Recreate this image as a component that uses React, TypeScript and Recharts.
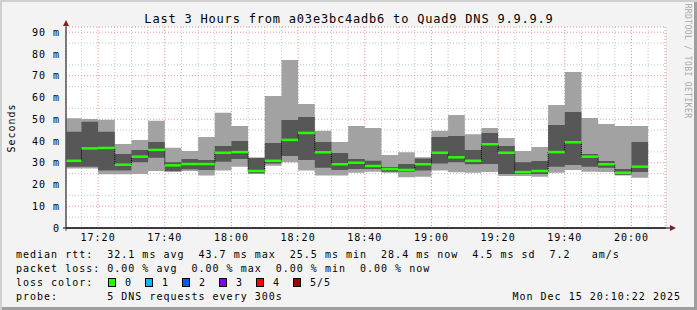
import React from "react";
import { ComposedChart, Area, Line, Scatter, XAxis, YAxis, CartesianGrid } from "recharts";

// 5-minute bins (start time of each bin)
const binTimes = [
  "17:10", "17:15", "17:20", "17:25", "17:30", "17:35", "17:40", "17:45", "17:50", "17:55",
  "18:00", "18:05", "18:10", "18:15", "18:20", "18:25", "18:30", "18:35", "18:40", "18:45", "18:50", "18:55",
  "19:00", "19:05", "19:10", "19:15", "19:20", "19:25", "19:30", "19:35", "19:40", "19:45", "19:50", "19:55",
  "20:00",
];

// smoke: slowest / fastest ping, inner pings and median (ms)
const pingMin = [27.4, 27.4, 24.7, 24.7, 24.8, 26.2, 25.7, 26.2, 24.1, 26.4, 28.2, 25.1, 28.6, 30.2, 26.4, 24.1, 24.1, 25.4, 25.9, 25.4, 23.3, 23.6, 26.4, 25.6, 25.4, 25.7, 23.9, 23.9, 23.6, 25.4, 26.7, 25.9, 25.7, 24.1, 23.1];
const pingLow = [28.2, 28.2, 26.4, 26.4, 30.2, 32.3, 26.2, 27.0, 26.7, 30.5, 31.7, 25.1, 29.7, 33.1, 31.3, 27.7, 26.7, 27.1, 27.1, 25.9, 25.9, 26.4, 29.7, 30.2, 29.3, 29.4, 24.8, 24.8, 24.8, 28.2, 29.0, 28.2, 27.7, 24.5, 25.7];
const median = [30.9, 36.6, 36.8, 29.1, 32.8, 35.9, 28.8, 29.4, 29.4, 34.6, 34.9, 26.2, 30.9, 40.5, 43.7, 34.8, 29.3, 30.0, 28.5, 27.1, 26.7, 29.3, 34.6, 32.5, 30.9, 38.5, 34.6, 25.7, 26.2, 34.9, 39.4, 32.8, 29.3, 25.4, 28.2];
const pingHigh = [44.3, 48.9, 44.3, 34.0, 35.9, 39.5, 30.2, 31.7, 31.3, 37.7, 40.0, 32.3, 39.1, 49.7, 51.0, 39.5, 34.5, 31.7, 30.9, 28.0, 29.4, 31.9, 41.8, 42.3, 35.9, 43.7, 37.7, 30.2, 30.8, 47.4, 53.3, 34.0, 30.8, 27.1, 39.5];
const pingMax = [50.4, 50.1, 49.8, 38.6, 40.5, 49.3, 36.9, 35.4, 41.8, 53.0, 46.9, 32.3, 60.7, 77.2, 57.0, 44.7, 39.5, 46.9, 46.0, 33.6, 34.8, 32.5, 44.7, 52.0, 43.1, 46.0, 41.4, 35.4, 37.2, 56.6, 71.7, 50.6, 47.8, 46.9, 46.9];

const xTickLabels = ["17:20", "17:40", "18:00", "18:20", "18:40", "19:00", "19:20", "19:40", "20:00"];
const yTicks = [0, 10, 20, 30, 40, 50, 60, 70, 80, 90];

const legendLines = [
  "median rtt:  32.1 ms avg  43.7 ms max  25.5 ms min  28.4 ms now  4.5 ms sd  7.2   am/s",
  "packet loss: 0.00 % avg  0.00 % max  0.00 % min  0.00 % now",
  "loss color:",
  "probe:       5 DNS requests every 300s",
];
const lossLabels = ["0", "1", "2", "3", "4", "5/5"];
const lossColors = ["#26ff00", "#00b8ff", "#0059ff", "#7e00ff", "#ff0000", "#a10000"];

const BIN = 5;
const toMin = (s: string) => {
  const [h, m, sec] = s.split(":").map(Number);
  return (h - 17) * 60 + m + (sec || 0) / 60;
};
const fmtTime = (t: number) => `${17 + Math.floor(t / 60)}:${String(Math.round(t % 60)).padStart(2, "0")}`;

const X0 = toMin("17:10:22");
const X1 = toMin("20:10:22");
const Y_MAX = 92.4;

const rows: any[] = binTimes.map((b, i) => ({
  t: toMin(b),
  smoke: [pingMin[i], pingMax[i]],
  core: [pingLow[i], pingHigh[i]],
  med: median[i],
}));
// close the last step
const last = rows[rows.length - 1];
rows.push({ t: last.t + BIN, smoke: last.smoke, core: last.core });

const xTicks = xTickLabels.map(toMin);
const xMinor: number[] = [];
for (let t = 15; t < X1; t += 5) if (!xTicks.includes(t)) xMinor.push(t);
const yMinor = [5, 15, 25, 35, 45, 55, 65, 75, 85];

const W = 697;
const H = 310;
const BIN_PX = (600 / (X1 - X0)) * BIN;
const FONT = "'DejaVu Sans Mono', monospace";

function MedianMark(p: any) {
  if (p == null || !Number.isFinite(p.cx) || !Number.isFinite(p.cy)) return <g />;
  return <line x1={p.cx} x2={p.cx + BIN_PX} y1={p.cy} y2={p.cy} stroke="#26ff00" strokeWidth={2.5} />;
}

export default function App() {
  const minorV = (props: any) => {
    const s = props?.xAxis?.scale;
    const o = props?.offset;
    return xMinor.map((v) => (typeof s === "function" ? s(v) : o.left + ((v - X0) / (X1 - X0)) * o.width));
  };
  const minorH = (props: any) => {
    const s = props?.yAxis?.scale;
    const o = props?.offset;
    return yMinor.map((v) => (typeof s === "function" ? s(v) : o.top + o.height - (v / Y_MAX) * o.height));
  };

  const tickStyle = { fontFamily: FONT, fontSize: 10, letterSpacing: 1, fill: "#000" };

  return (
    <div
      style={{
        position: "fixed",
        left: 0,
        top: 0,
        width: W,
        height: H,
        background: "#f3f3f3",
        boxShadow: "inset 2px 2px 0 #cfcfcf, inset -3px -3px 0 #9e9e9e",
      }}
    >
      <ComposedChart width={W} height={H} data={rows} margin={{ top: 27, right: 31, bottom: 62, left: 0 }}>
        <CartesianGrid
          fill="#ffffff"
          stroke="#c4c4c4"
          strokeDasharray="1 2"
          verticalCoordinatesGenerator={minorV}
          horizontalCoordinatesGenerator={minorH}
        />
        <CartesianGrid stroke="#f09090" strokeDasharray="1 2" />
        <XAxis
          dataKey="t"
          type="number"
          domain={[X0, X1]}
          allowDataOverflow
          ticks={xTicks}
          tickFormatter={fmtTime}
          tickLine={false}
          tickSize={5}
          tickMargin={1}
          height={20}
          axisLine={{ stroke: "#000" }}
          tick={tickStyle}
        />
        <YAxis
          type="number"
          domain={[0, Y_MAX]}
          ticks={yTicks}
          tickFormatter={(v: number) => (v === 0 ? "0" : `${v} m`)}
          tickLine={false}
          tickSize={4}
          tickMargin={2}
          width={66}
          axisLine={{ stroke: "#555" }}
          tick={tickStyle}
        />
        <Area type="stepAfter" dataKey="smoke" fill="#a2a2a2" fillOpacity={1} stroke="none" isAnimationActive={false} />
        <Area type="stepAfter" dataKey="core" fill="#575757" fillOpacity={1} stroke="none" isAnimationActive={false} />
        <Line
          type="stepAfter"
          dataKey="med"
          stroke="#000"
          strokeWidth={1}
          strokeDasharray="1 1"
          dot={false}
          activeDot={false}
          isAnimationActive={false}
        />
        <Scatter dataKey="med" shape={MedianMark} isAnimationActive={false} />
      </ComposedChart>

      <svg width={W} height={H} style={{ position: "absolute", left: 0, top: 0, pointerEvents: "none" }}>
        <text x={349} y={23} textAnchor="middle" fontFamily={FONT} fontSize={12} letterSpacing={0.8} fill="#000">
          Last 3 Hours from a03e3bc4adb6 to Quad9 DNS 9.9.9.9
        </text>
        <text
          transform="translate(11,128) rotate(-90)"
          textAnchor="middle"
          dy="0.35em"
          fontFamily={FONT}
          fontSize={10}
          letterSpacing={1}
          fill="#000"
        >
          Seconds
        </text>
        <text
          transform="translate(688,61) rotate(90)"
          textAnchor="middle"
          dy="0.35em"
          fontFamily={FONT}
          fontSize={8}
          letterSpacing={0.4}
          fill="#a8a8a8"
        >
          RRDTOOL / TOBI OETIKER
        </text>

        {/* axis extensions and arrows */}
        <line x1={66} y1={231} x2={66} y2={25} stroke="#555" />
        <polygon points="63,26 69,26 66,20" fill="#7f1f1f" />
        <line x1={63} y1={228} x2={671} y2={228} stroke="#000" />
        <polygon points="670,225 670,231 676,228" fill="#7f1f1f" />

        {legendLines.map((l, i) => (
          <text
            key={i}
            x={16}
            y={258 + i * 14}
            fontFamily={FONT}
            fontSize={10}
            letterSpacing={1}
            fill="#000"
            style={{ whiteSpace: "pre" }}
          >
            {l}
          </text>
        ))}
        {lossLabels.map((lab, i) => (
          <g key={lab}>
            <rect x={108.5 + i * 37} y={278.5} width={7} height={8} fill={lossColors[i]} stroke="#000" />
            <text x={125 + i * 37} y={286} fontFamily={FONT} fontSize={10} letterSpacing={1} fill="#000">
              {lab}
            </text>
          </g>
        ))}
        <text x={681} y={300} textAnchor="end" fontFamily={FONT} fontSize={10} letterSpacing={1} fill="#000">
          Mon Dec 15 20:10:22 2025
        </text>
      </svg>
    </div>
  );
}
